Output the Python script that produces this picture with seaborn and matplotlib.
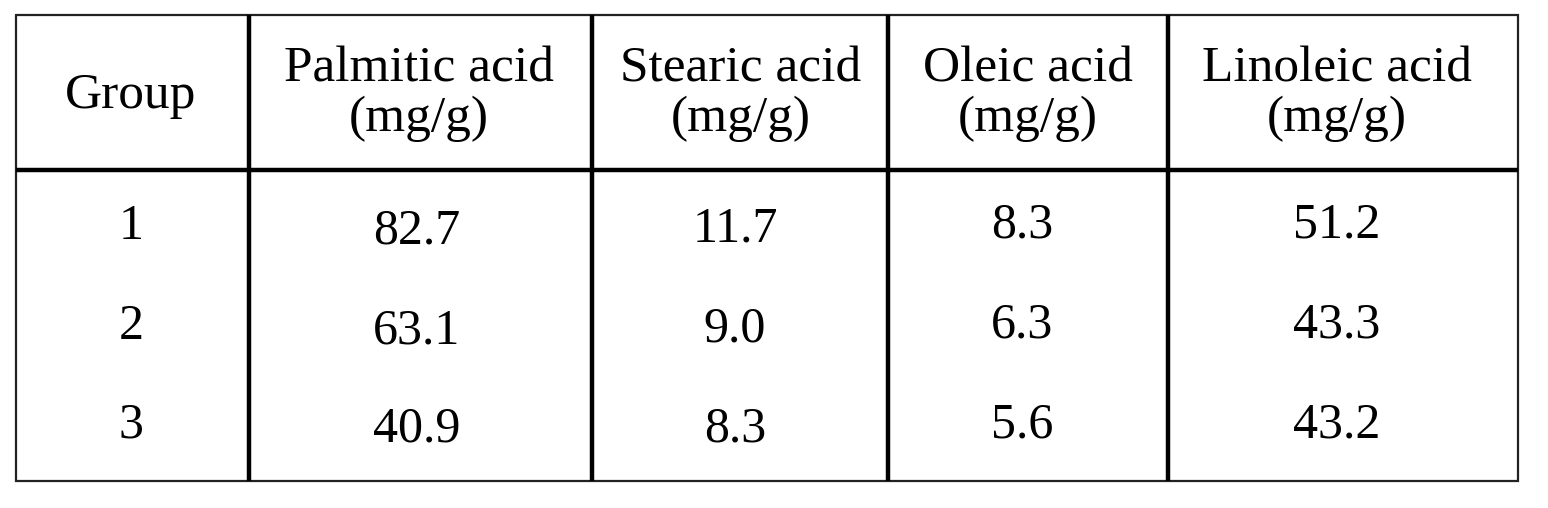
import matplotlib
matplotlib.use("Agg")
import matplotlib.pyplot as plt
import seaborn as sns
import pandas as pd

# ---- data ----
header_top = ["Group", "Palmitic acid", "Stearic acid", "Oleic acid", "Linoleic acid"]
header_bottom = ["", "(mg/g)", "(mg/g)", "(mg/g)", "(mg/g)"]
groups = ["1", "2", "3"]
palmitic = ["82.7", "63.1", "40.9"]
stearic = ["11.7", "9.0", "8.3"]
oleic = ["8.3", "6.3", "5.6"]
linoleic = ["51.2", "43.3", "43.2"]

df = pd.DataFrame({
    header_top[0]: groups,
    header_top[1]: palmitic,
    header_top[2]: stearic,
    header_top[3]: oleic,
    header_top[4]: linoleic,
})

# ---- layout (pixels) ----
W, H = 1548, 508
left, right, top, bottom = 16, 1518, 15, 481
col_edges = [left, 249, 592, 888, 1168, right]
header_line_y = 170
head_x = [131, 419, 741, 1028, 1337]
data_x = [131, 417, 735, 1022, 1337]
row_base = [240, 340, 439]
col_dy = [-1, 3, 2, -2, -2]

sns.set_theme(style="white")
plt.rcParams['font.family'] = ['Liberation Serif', 'DejaVu Serif']

fig = plt.figure(figsize=(W / 100, H / 100), dpi=100)
ax = fig.add_axes([0, 0, 1, 1])
ax.set_xlim(0, W)
ax.set_ylim(H, 0)
ax.axis("off")

# outer border (thin)
ax.plot([left, right, right, left, left], [top, top, bottom, bottom, top],
        color="#222222", lw=1.6, solid_joinstyle="miter")
# inner vertical lines (thick)
for x in col_edges[1:-1]:
    ax.plot([x, x], [top, bottom], color="black", lw=3.2, solid_capstyle="butt")
# header separator (thick)
ax.plot([left, right], [header_line_y, header_line_y], color="black", lw=3.2,
        solid_capstyle="butt")

fs_head = 37
fs_data = 36
for i, col in enumerate(df.columns):
    if header_bottom[i]:
        ax.text(head_x[i], 81, header_top[i], ha="center", va="baseline",
                fontsize=fs_head, color="black")
        ax.text(head_x[i], 131, header_bottom[i], ha="center", va="baseline",
                fontsize=fs_head, color="black")
    else:
        ax.text(head_x[i], 108, header_top[i], ha="center", va="baseline",
                fontsize=fs_head, color="black")
    for r, val in enumerate(df[col]):
        ax.text(data_x[i], row_base[r] + col_dy[i], val, ha="center", va="baseline",
                fontsize=fs_data, color="black")

fig.savefig("out.png", dpi=100, facecolor="white")
